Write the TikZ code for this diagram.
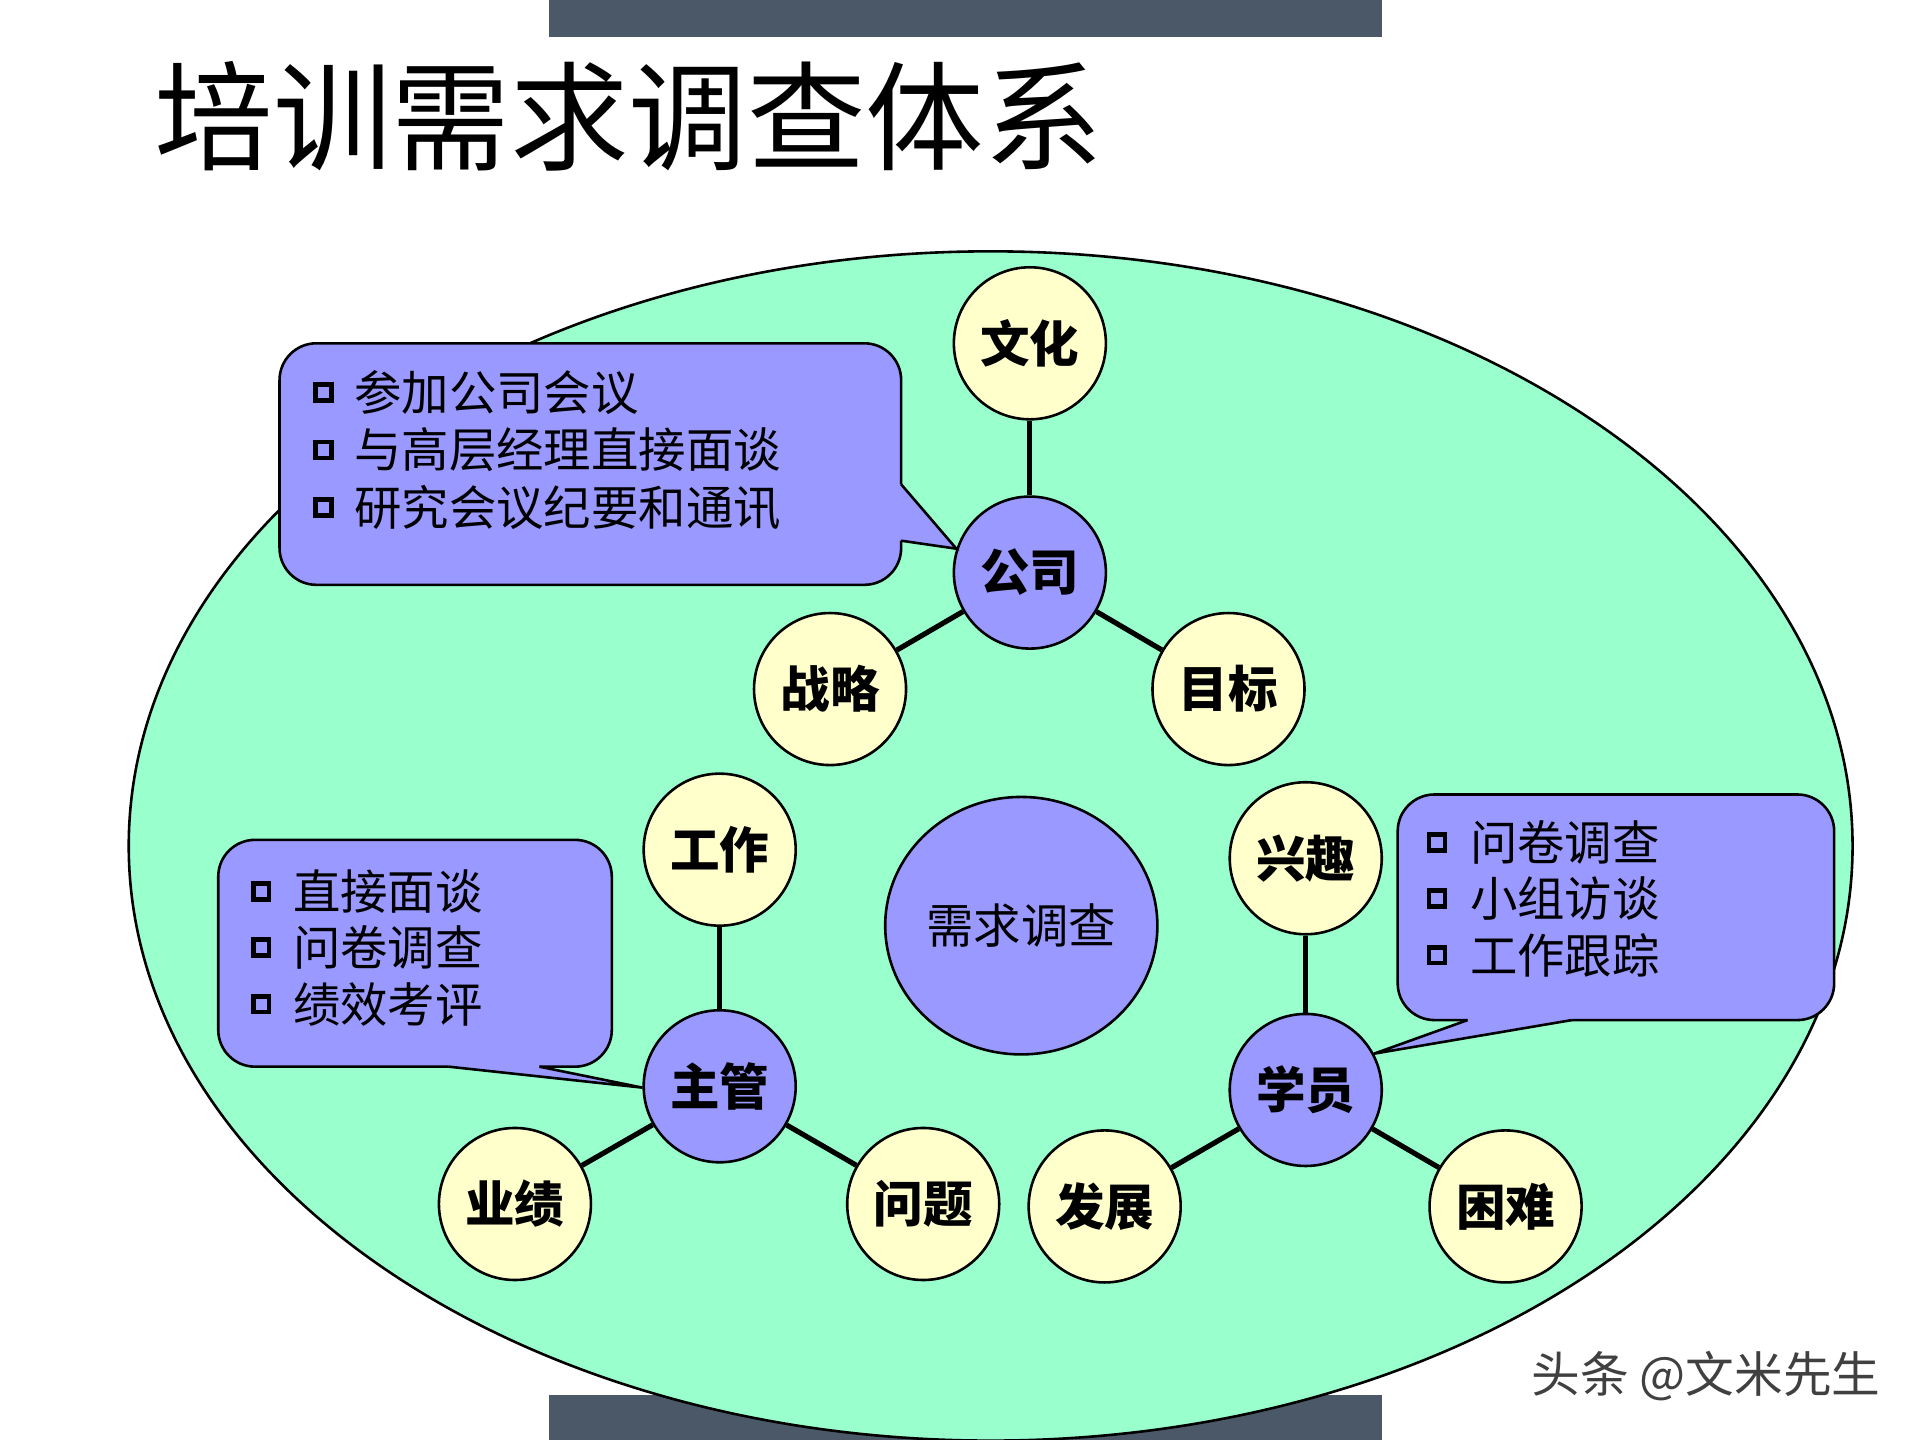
\documentclass[tikz,border=0pt]{standalone}
\usepackage{fontspec}
\setmainfont{Noto Sans CJK SC}
\usetikzlibrary{shapes.geometric}
\definecolor{mint}{HTML}{99FFCC}
\definecolor{lav}{HTML}{9999FF}
\definecolor{cream}{HTML}{FFFFCC}
\definecolor{slate}{HTML}{4A5868}

\begin{document}
\begin{tikzpicture}[line width=0.6pt,
  leaf/.style={draw, circle, fill=cream, minimum size=1.24cm, inner sep=0pt, font=\fontsize{11.5}{12}\selectfont\bfseries},
  hub/.style={leaf, fill=lav},
  spoke/.style={line width=1.2pt},
  box/.style={draw, fill=lav, rounded corners=0.3cm},
  bul/.style={draw, line width=1.1pt, fill=lav, minimum size=0.13cm, inner sep=0pt},
  item/.style={anchor=west, inner sep=0pt, font=\fontsize{11}{12}\selectfont}]
	\useasboundingbox (0,0) rectangle (15.66,-11.745);
	\fill[slate] (4.48,0) rectangle (11.27,-0.3);
	\fill[slate] (4.48,-11.38) rectangle (11.27,-11.745);
	\node[anchor=west, inner sep=0pt, font=\fontsize{27.5}{30}\selectfont] (title) at (1.25,-0.95) {培训需求调查体系};
	\draw[fill=mint] (8.08,-6.9) ellipse (7.03 and 4.85);
	\node[draw, ellipse, fill=lav, inner sep=0pt, minimum width=2.22cm, minimum height=2.1cm, font=\fontsize{11}{12}\selectfont] (dc) at (8.33,-7.55) {需求调查};
	\node[hub] (gs) at (8.40,-4.67) {公司};
	\node[leaf] (wh) at (8.40,-2.80) {文化};
	\node[leaf] (zl) at (6.77,-5.62) {战略};
	\node[leaf] (mb) at (10.02,-5.62) {目标};
	\node[hub] (zg) at (5.87,-8.86) {主管};
	\node[leaf] (gz) at (5.87,-6.93) {工作};
	\node[leaf] (yj) at (4.20,-9.82) {业绩};
	\node[leaf] (wt) at (7.53,-9.82) {问题};
	\node[hub] (xy) at (10.65,-8.89) {学员};
	\node[leaf] (xq) at (10.65,-7.00) {兴趣};
	\node[leaf] (fz) at (9.01,-9.84) {发展};
	\node[leaf] (kn) at (12.28,-9.84) {困难};
	\foreach \a/\b in {gs/wh,gs/zl,gs/mb,zg/gz,zg/yj,zg/wt,xy/xq,xy/fz,xy/kn}
	  \draw[spoke] (\a) -- (\b);
	\draw[box] (2.28,-2.80) rectangle (7.35,-4.77);
	\fill[lav] (7.30,-3.95) -- (7.35,-3.95) -- (gs.162) -- (7.35,-4.41) -- (7.30,-4.41) -- cycle;
	\draw (7.35,-3.95) -- (gs.162) -- (7.35,-4.41);
	\foreach \t [count=\i] in {参加公司会议,与高层经理直接面谈,研究会议纪要和通讯} {
	  \node[bul] (ba\i) at (2.64,-2.73-0.47*\i) {};
	  \node[item] (ta\i) at (2.88,-2.73-0.47*\i) {\t};
	}
	\draw[box] (1.78,-6.85) rectangle (4.99,-8.70);
	\fill[lav] (3.66,-8.65) -- (3.66,-8.70) -- (zg.181) -- (4.40,-8.70) -- (4.40,-8.65) -- cycle;
	\draw (3.66,-8.70) -- (zg.181) -- (4.40,-8.70);
	\foreach \t [count=\i] in {直接面谈,问卷调查,绩效考评} {
	  \node[bul] (bb\i) at (2.13,-6.81-0.46*\i) {};
	  \node[item] (tb\i) at (2.38,-6.81-0.46*\i) {\t};
	}
	\draw[box] (11.40,-6.48) rectangle (14.96,-8.32);
	\fill[lav] (11.97,-8.27) -- (11.97,-8.32) -- (xy.28) -- (12.82,-8.32) -- (12.82,-8.27) -- cycle;
	\draw (11.97,-8.32) -- (xy.28) -- (12.82,-8.32);
	\foreach \t [count=\i] in {问卷调查,小组访谈,工作跟踪} {
	  \node[bul] (bc\i) at (11.72,-6.41-0.46*\i) {};
	  \node[item] (tc\i) at (11.98,-6.41-0.46*\i) {\t};
	}
	\node[anchor=west, inner sep=0pt, text=black!75, font=\fontsize{11.3}{12}\selectfont] (wm) at (12.48,-11.22) {头条 @文米先生};
\end{tikzpicture}
\end{document}
